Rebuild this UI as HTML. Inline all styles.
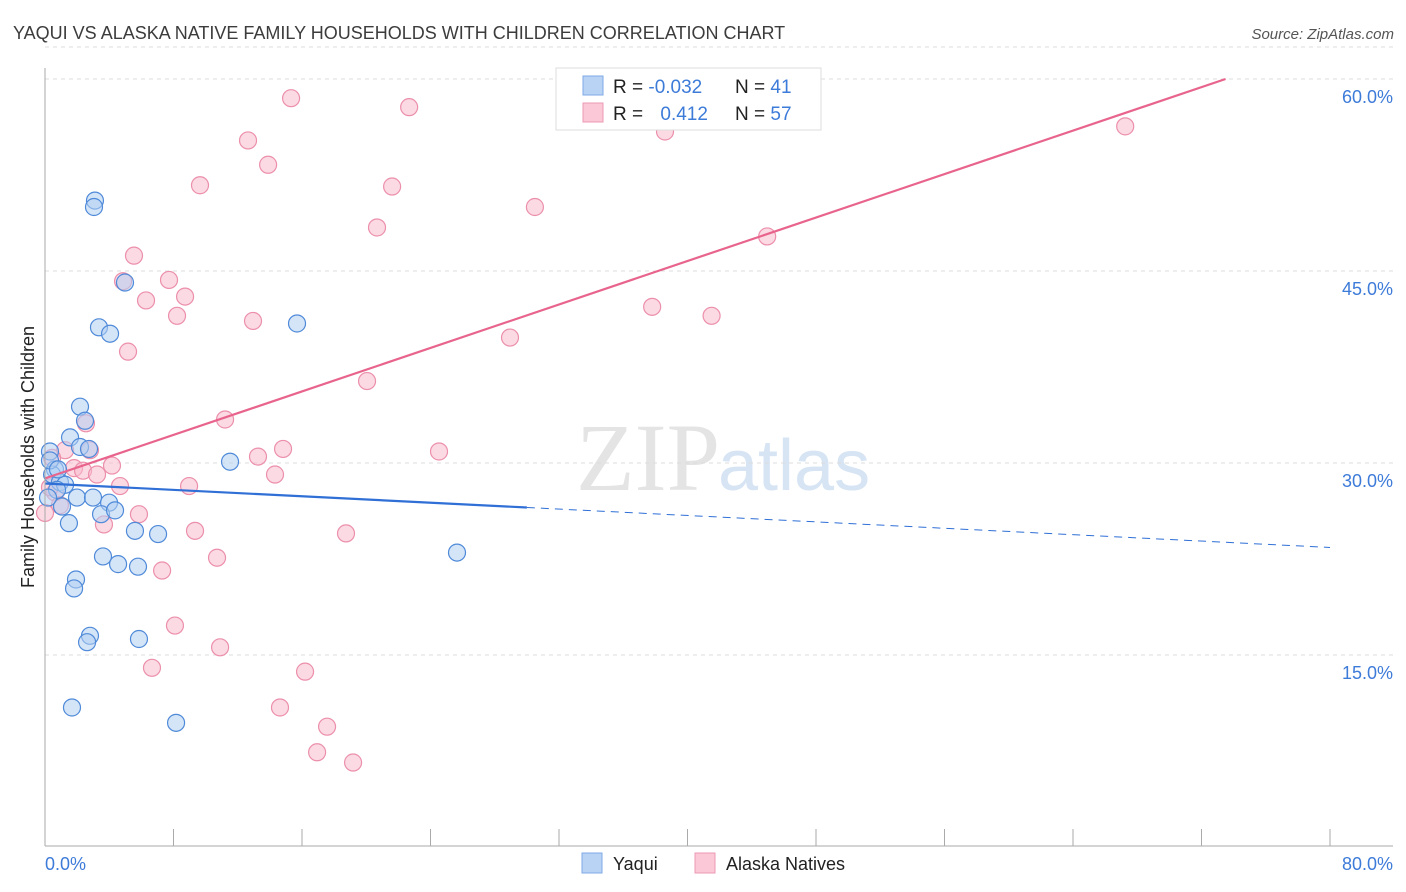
<!DOCTYPE html>
<html><head><meta charset="utf-8"><style>
body{margin:0;background:#fff;font-family:"Liberation Sans",sans-serif}
svg{display:block}
</style></head><body>
<svg id="chart" width="1406" height="892" xmlns="http://www.w3.org/2000/svg">
<text x="13" y="39" font-size="18" fill="#3c3c3c">YAQUI VS ALASKA NATIVE FAMILY HOUSEHOLDS WITH CHILDREN CORRELATION CHART</text>
<text x="1394" y="39" font-size="15" fill="#555" text-anchor="end" font-style="italic">Source: ZipAtlas.com</text>
<text x="720" y="490" font-size="96" fill="#e4e4e4" text-anchor="end" font-family="Liberation Serif">ZIP</text>
<text x="718" y="490" font-size="72" fill="#d6e4f4">atlas</text>
<g id="grid"></g><g id="pts"></g><g id="lines"></g>
<line x1="45" y1="68" x2="45" y2="846" stroke="#aaa" stroke-width="1"/>
<line x1="45" y1="846" x2="1393" y2="846" stroke="#aaa" stroke-width="1"/>
<text transform="translate(34,457) rotate(-90)" font-size="18" fill="#222" text-anchor="middle">Family Households with Children</text>
<text x="45" y="870" font-size="18" fill="#3d7bd9">0.0%</text>
<text x="1393" y="870" font-size="18" fill="#3d7bd9" text-anchor="end">80.0%</text>
<g>
<rect x="556" y="68" width="265" height="62" fill="#fff" stroke="#ddd"/>
<rect x="583" y="76" width="20" height="19" fill="#b9d3f5" stroke="#7fa9e6"/>
<rect x="583" y="103" width="20" height="19" fill="#fac8d6" stroke="#ee9ab4"/>
<text x="613" y="93" font-size="19" fill="#222">R = <tspan fill="#3d7bd9">-0.032</tspan></text>
<text x="735" y="93" font-size="19" fill="#222">N = <tspan fill="#3d7bd9"> 41</tspan></text>
<text x="613" y="120" font-size="19" fill="#222">R = <tspan fill="#3d7bd9" dx="12">0.412</tspan></text>
<text x="735" y="120" font-size="19" fill="#222">N = <tspan fill="#3d7bd9">57</tspan></text>
</g>
<g><rect x="582" y="853" width="20" height="20" fill="#b9d3f5" stroke="#7fa9e6"/><text x="613" y="870" font-size="18" fill="#222">Yaqui</text></g>
<g><rect x="695" y="853" width="20" height="20" fill="#fac8d6" stroke="#ee9ab4"/><text x="726" y="870" font-size="18" fill="#222">Alaska Natives</text></g>
</svg>
<script>
const yTicks=[15,30,45,60];
const xTicks=[0,8,16,24,32,40,48,56,64,72,80];
const yaquiX=[3.11,3.05,3.36,4.05,4.98,15.69,2.18,2.49,1.56,2.18,2.74,0.31,0.62,0.44,0.93,1.25,0.75,1.99,2.99,3.99,1.06,3.49,4.36,1.49,5.6,7.04,11.52,3.61,4.55,5.79,25.65,1.93,1.81,2.8,2.62,5.85,1.68,8.16,0.31,0.19,0.81];
const yaquiY=[50.5,50.0,40.6,40.1,44.1,40.9,34.4,33.3,32.0,31.25,31.1,30.9,29.5,29.1,28.5,28.3,27.9,27.3,27.3,26.9,26.6,26.0,26.3,25.3,24.7,24.45,30.1,22.7,22.1,21.9,23.0,20.9,20.2,16.5,16.0,16.25,10.9,9.7,30.2,27.3,29.5];
const alaskaX=[15.32,22.67,33.0,38.6,67.25,12.64,13.89,9.65,21.61,30.5,20.67,44.96,5.54,4.86,7.72,6.29,8.72,8.22,12.95,37.8,41.5,28.95,5.17,20.05,11.21,2.55,14.82,13.26,24.53,2.8,1.25,4.17,1.81,2.37,3.24,14.32,0.44,4.67,8.97,0.62,0.0,5.85,3.67,9.34,18.74,10.71,7.29,8.09,10.9,6.66,16.19,14.63,17.56,16.94,19.18,0.31,0.93];
const alaskaY=[58.5,57.8,56.7,55.9,56.3,55.2,53.3,51.7,51.6,50.0,48.4,47.7,46.2,44.2,44.3,42.7,43.0,41.5,41.1,42.2,41.5,39.8,38.7,36.4,33.4,33.1,31.1,30.5,30.9,31.0,31.0,29.8,29.6,29.4,29.1,29.1,30.4,28.2,28.2,27.7,26.1,26.0,25.2,24.7,24.5,22.6,21.6,17.3,15.6,14.0,13.7,10.9,9.4,7.4,6.6,28.1,26.7];
const yaquiFit=[28.4,-0.0625]; // intercept, slope
const alaskaFit=[28.8,0.4245];
const NS='http://www.w3.org/2000/svg';
const X=v=>45+v*16.0625, Y=v=>847-v*12.8;
function mk(t,a,p){const e=document.createElementNS(NS,t);for(const k in a)e.setAttribute(k,a[k]);p.appendChild(e);return e;}
const grid=document.getElementById('grid'),pts=document.getElementById('pts'),lines=document.getElementById('lines');
yTicks.forEach(t=>{
 const l=mk('line',{x1:45,x2:1393,y1:Y(t),y2:Y(t),stroke:'#ddd','stroke-dasharray':'4,4'},grid);
 
 
 const tx=mk('text',{x:1393,y:Y(t)+24,'font-size':18,fill:'#3d7bd9','text-anchor':'end'},grid);
 tx.textContent=t.toFixed(1)+'%';
 
 
});
mk('line',{x1:45,x2:1393,y1:Y(62.5),y2:Y(62.5),stroke:'#ddd','stroke-dasharray':'4,4'},grid);
xTicks.forEach(t=>{
 const l=mk('line',{x1:X(t),x2:X(t),y1:829,y2:846,stroke:'#aaa'},grid);
 
 
});
function dots(xs,ys,fill,stroke,name){xs.forEach((x,i)=>{
 const c=mk('circle',{cx:X(x),cy:Y(ys[i]),r:8.5,fill:fill,'fill-opacity':0.55,stroke:stroke,'stroke-width':1.2},pts);
 
 
});}
dots(alaskaX,alaskaY,'#f8bccd','#ec8fab','alaska-point');
dots(yaquiX,yaquiY,'#b3cff3','#4f8ad9','yaqui-point');
const f=(fit,x)=>fit[0]+fit[1]*x;
let l1=mk('line',{x1:X(0),y1:Y(f(yaquiFit,0)),x2:X(30),y2:Y(f(yaquiFit,30)),stroke:'#2f6fd6','stroke-width':2.2},lines);


let l2=mk('line',{x1:X(30),y1:Y(f(yaquiFit,30)),x2:X(80),y2:Y(f(yaquiFit,80)),stroke:'#2f6fd6','stroke-width':1,'stroke-dasharray':'8,6'},lines);


const xe=(60-alaskaFit[0])/alaskaFit[1];
let l3=mk('line',{x1:X(0),y1:Y(f(alaskaFit,0)),x2:X(xe),y2:Y(60),stroke:'#e8648d','stroke-width':2.2},lines);


</script>
</body></html>
